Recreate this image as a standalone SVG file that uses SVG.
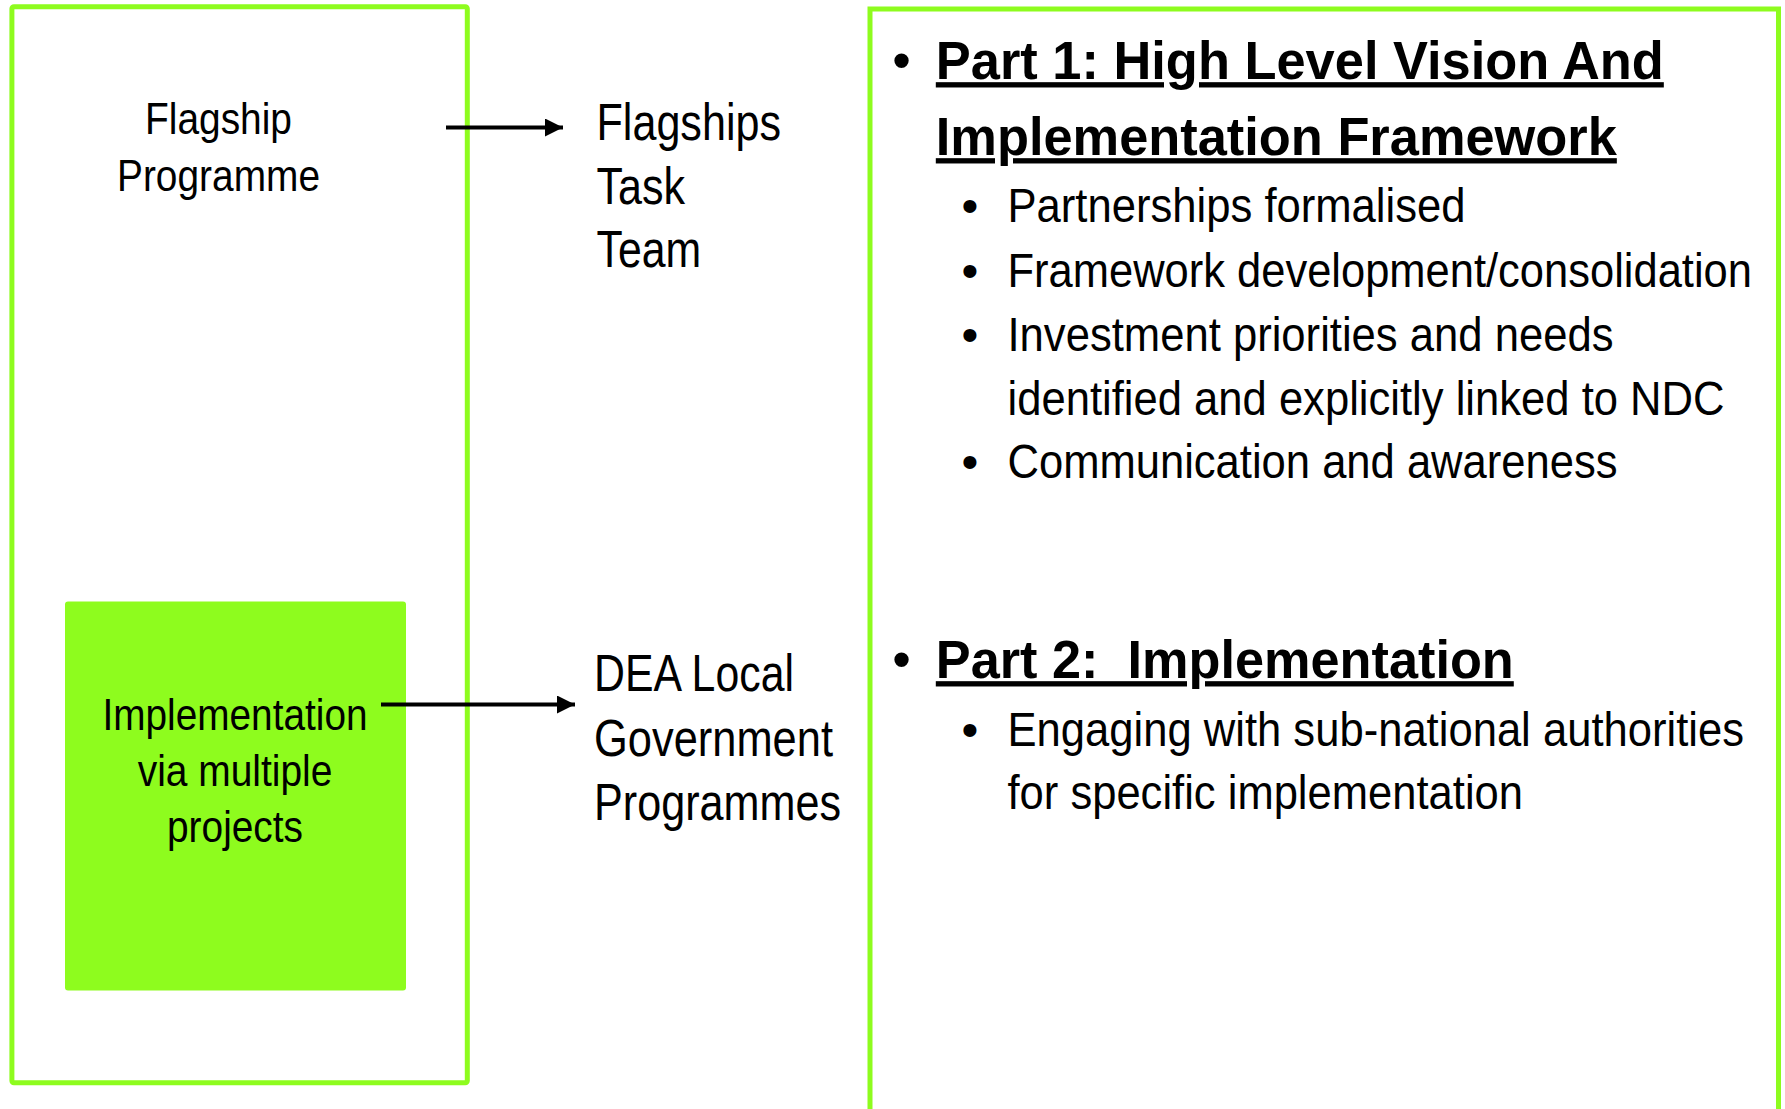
<svg xmlns="http://www.w3.org/2000/svg" width="1785" height="1109" viewBox="0 0 1785 1109">
<style>
  .frame { fill: none; stroke: #8EFC1E; stroke-width: 5; }
  .fill { fill: #8EFC1E; }
  .t { font-family: "Liberation Sans Narrow", "Liberation Sans", Arial, sans-serif; fill: #000; }
  .s44 { font-size: 44px; }
  .s52 { font-size: 52px; }
  .s48 { font-size: 48px; }
  .h { font-size: 53px; font-weight: bold; text-decoration: underline; white-space: pre; }
  .conn { stroke: #000; stroke-width: 4; fill: none; }
</style>
<defs>
  <marker id="arr" markerUnits="userSpaceOnUse" markerWidth="19" markerHeight="19" refX="18" refY="9" orient="auto">
    <path d="M0,0 L18,9 L0,18 z" fill="#000"/>
  </marker>
</defs>
<rect width="1785" height="1109" fill="#fff"/>

<g id="flagship-programme">
  <rect class="frame" x="11.9" y="6.8" width="455.4" height="1076" rx="2"/>
  <text class="t s44" x="145" y="134" textLength="147" lengthAdjust="spacingAndGlyphs">Flagship</text>
  <text class="t s44" x="117" y="191" textLength="203" lengthAdjust="spacingAndGlyphs">Programme</text>
</g>

<g id="implementation">
  <rect class="fill" x="65" y="601.5" width="341" height="389" rx="3"/>
  <text class="t s44" x="102.5" y="729.5" textLength="265" lengthAdjust="spacingAndGlyphs">Implementation</text>
  <text class="t s44" x="137.7" y="785.5" textLength="194.7" lengthAdjust="spacingAndGlyphs">via multiple</text>
  <text class="t s44" x="167" y="842" textLength="136" lengthAdjust="spacingAndGlyphs">projects</text>
</g>

<g id="flagships-task-team">
  <text class="t s52" x="596.5" y="140" textLength="184.5" lengthAdjust="spacingAndGlyphs">Flagships</text>
  <text class="t s52" x="596.5" y="203.5" textLength="88.5" lengthAdjust="spacingAndGlyphs">Task</text>
  <text class="t s52" x="596.5" y="267" textLength="104.7" lengthAdjust="spacingAndGlyphs">Team</text>
</g>

<g id="dea-local-government">
  <text class="t s52" x="594" y="691" textLength="200" lengthAdjust="spacingAndGlyphs">DEA Local</text>
  <text class="t s52" x="594" y="756" textLength="239" lengthAdjust="spacingAndGlyphs">Government</text>
  <text class="t s52" x="594" y="819.5" textLength="247" lengthAdjust="spacingAndGlyphs">Programmes</text>
</g>

<g id="parts">
  <rect class="frame" x="870" y="9" width="908.5" height="1120"/>
  <text class="t" font-size="53" x="901.6" y="79" text-anchor="middle">•</text>
  <text class="t" font-size="53" x="901.6" y="678" text-anchor="middle">•</text>
  <text class="t s48" x="970" y="222" text-anchor="middle">•</text>
  <text class="t s48" x="970" y="287" text-anchor="middle">•</text>
  <text class="t s48" x="970" y="351" text-anchor="middle">•</text>
  <text class="t s48" x="970" y="478" text-anchor="middle">•</text>
  <text class="t s48" x="970" y="746" text-anchor="middle">•</text>
  <g transform="translate(935.8,0) scale(0.88,1)">
    <text class="t h" x="0" y="79" textLength="827.3" lengthAdjust="spacingAndGlyphs">Part 1: High Level Vision And</text>
    <text class="t h" x="0" y="155" textLength="773.9" lengthAdjust="spacingAndGlyphs">Implementation Framework</text>
    <text class="t h" x="0" y="678" textLength="656.8" lengthAdjust="spacingAndGlyphs">Part 2:  Implementation</text>
  </g>
  <g transform="translate(1007.5,0) scale(0.88,1)">
    <text class="t s48" x="0" y="222" textLength="520.5" lengthAdjust="spacingAndGlyphs">Partnerships formalised</text>
    <text class="t s48" x="0" y="287" textLength="846" lengthAdjust="spacingAndGlyphs">Framework development/consolidation</text>
    <text class="t s48" x="0" y="351" textLength="688.6" lengthAdjust="spacingAndGlyphs">Investment priorities and needs</text>
    <text class="t s48" x="0" y="415" textLength="814.8" lengthAdjust="spacingAndGlyphs">identified and explicitly linked to NDC</text>
    <text class="t s48" x="0" y="478" textLength="693.2" lengthAdjust="spacingAndGlyphs">Communication and awareness</text>
    <text class="t s48" x="0" y="746" textLength="836.9" lengthAdjust="spacingAndGlyphs">Engaging with sub-national authorities</text>
    <text class="t s48" x="0" y="809" textLength="585.8" lengthAdjust="spacingAndGlyphs">for specific implementation</text>
  </g>
</g>

<g id="connectors">
  <line class="conn" x1="446" y1="127.5" x2="563" y2="127.5" marker-end="url(#arr)"/>
  <line class="conn" x1="381" y1="704.5" x2="575" y2="704.5" marker-end="url(#arr)"/>
</g>
</svg>
